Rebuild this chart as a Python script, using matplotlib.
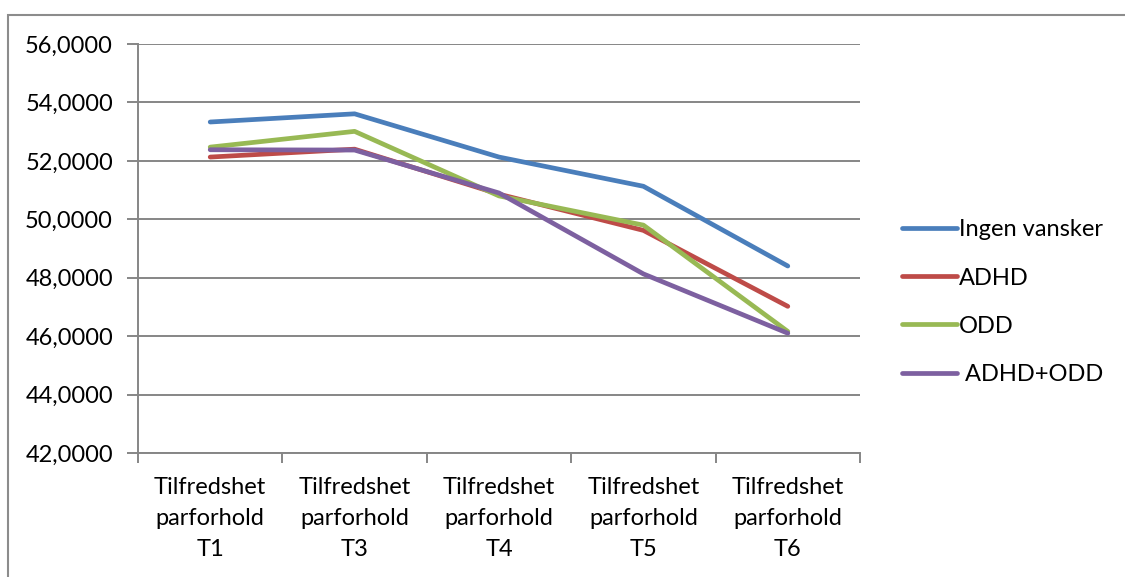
import numpy as np
import matplotlib.pyplot as plt
from matplotlib.ticker import FuncFormatter, FixedLocator
from matplotlib.patches import Rectangle

plt.rcParams['font.family'] = ['Lato', 'DejaVu Sans']

categories = ["Tilfredshet\nparforhold\nT1", "Tilfredshet\nparforhold\nT3",
              "Tilfredshet\nparforhold\nT4", "Tilfredshet\nparforhold\nT5",
              "Tilfredshet\nparforhold\nT6"]

ingen_vansker = [53.33, 53.61, 52.13, 51.13, 48.40]
adhd = [52.13, 52.40, 50.86, 49.62, 47.02]
odd = [52.47, 53.01, 50.80, 49.80, 46.16]
adhd_odd = [52.38, 52.37, 50.90, 48.13, 46.10]

series = [
    ("Ingen vansker", ingen_vansker, "#4A7EBB"),
    ("ADHD", adhd, "#BE4B48"),
    ("ODD", odd, "#98B954"),
    (" ADHD+ODD", adhd_odd, "#7D60A0"),
]

fig = plt.figure(figsize=(11.25, 5.77), dpi=100)
W, H = 1125, 577

# outer chart frame
fig.patches.append(Rectangle((8 / W, -0.1), 1.2, (577 - 14.5) / H + 0.1,
                             transform=fig.transFigure, fill=False,
                             edgecolor="#8c8c8c", linewidth=1.5))

ax = fig.add_axes([138 / W, (577 - 453) / H, (860 - 138) / W, (453 - 44) / H])

x = np.arange(len(categories))
for name, vals, col in series:
    ax.plot(x, vals, color=col, linewidth=3.4, label=name,
            solid_capstyle="round", solid_joinstyle="round")

ax.set_xlim(-0.5, len(categories) - 0.5)
ax.set_ylim(42, 56)
ax.set_yticks(np.arange(42, 57, 2))
ax.yaxis.set_major_formatter(FuncFormatter(lambda v, p: f"{v:.4f}".replace(".", ",")))
ax.yaxis.grid(True, color="#868686", linewidth=1.4)
ax.set_axisbelow(True)

ax.set_xticks(x)
ax.set_xticklabels(categories, linespacing=1.6)
ax.xaxis.set_minor_locator(FixedLocator(np.arange(-0.5, len(categories), 1)))
ax.tick_params(axis="x", which="major", length=0, pad=17, labelsize=17)
ax.tick_params(axis="x", which="minor", length=7, width=1.4, color="#868686")
ax.tick_params(axis="y", length=8, width=1.4, color="#868686", pad=10, labelsize=17)

for s in ["top", "right"]:
    ax.spines[s].set_visible(False)
for s in ["left", "bottom"]:
    ax.spines[s].set_color("#868686")
    ax.spines[s].set_linewidth(1.4)

fig.legend(loc="upper left", bbox_to_anchor=(893 / W, (577 - 210) / H),
           frameon=False, fontsize=17, handlelength=2.3, handletextpad=0.1,
           labelspacing=1.15, borderaxespad=0)

fig.savefig("out.png", dpi=100)
